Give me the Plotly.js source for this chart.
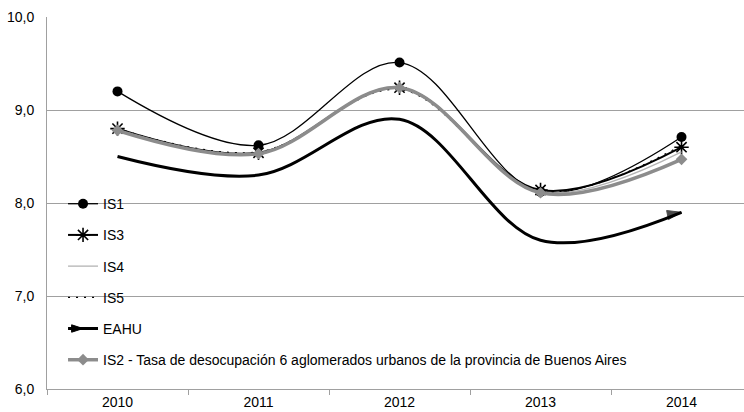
<!DOCTYPE html>
<html>
<head>
<meta charset="utf-8">
<script src="https://cdn.plot.ly/plotly-3.0.1.min.js"></script>
<style>html,body{margin:0;padding:0;background:#fff;}#chart{width:744px;height:412px;}</style>
</head>
<body>
<div id="chart"></div>
<script>
var years = ['2010', '2011', '2012', '2013', '2014'];
var is1 = [9.2, 8.62, 9.51, 8.12, 8.71];
var is3 = [8.8, 8.54, 9.24, 8.14, 8.6];
var is4 = [8.79, 8.53, 9.23, 8.12, 8.55];
var is5 = [8.8, 8.55, 9.22, 8.13, 8.62];
var eahu = [8.5, 8.3, 8.9, 7.6, 7.9];
var is2 = [8.78, 8.53, 9.24, 8.11, 8.47];
var yTicks = [6, 7, 8, 9, 10];
var labels = ['IS1', 'IS3', 'IS4', 'IS5', 'EAHU', 'IS2 - Tasa de desocupación 6 aglomerados urbanos de la provincia de Buenos Aires'];

var arrowSizes = eahu.map(function (v, i) { return i === eahu.length - 1 ? 15 : 0; });

var traces = [
  {x: years, y: is1, name: labels[0], legendgroup: 'a', mode: 'lines+markers', line: {color: '#000', width: 1.3, shape: 'spline', smoothing: 1}, marker: {symbol: 'circle', size: 10, color: '#000'}},
  {x: years, y: is3, name: labels[1], legendgroup: 'b', mode: 'lines+markers', line: {color: '#000', width: 2, shape: 'spline', smoothing: 1}, marker: {symbol: 'asterisk-open', size: 12, line: {color: '#000', width: 1.6}}},
  {x: years, y: is4, name: labels[2], legendgroup: 'c', mode: 'lines', line: {color: '#b4b4b4', width: 1.3, shape: 'spline', smoothing: 1}},
  {x: years, y: is5, name: labels[3], legendgroup: 'd', mode: 'lines', line: {color: '#000', width: 1.3, dash: '2px,6px', shape: 'spline', smoothing: 1}},
  {x: years, y: eahu, name: labels[4], legendgroup: 'e', showlegend: false, mode: 'lines+markers', line: {color: '#000', width: 3, shape: 'spline', smoothing: 1}, marker: {symbol: 'arrow', angleref: 'previous', size: arrowSizes, color: '#000', line: {color: '#000', width: 1}}},
  {x: [null], y: [null], name: labels[4], legendgroup: 'e', mode: 'lines+markers', line: {color: '#000', width: 3}, marker: {symbol: 'arrow', angle: 90, size: 12, color: '#000', line: {color: '#000', width: 1}}},
  {x: years, y: is2, name: labels[5], legendgroup: 'f', mode: 'lines+markers', line: {color: '#8c8c8c', width: 3.5, shape: 'spline', smoothing: 1}, marker: {symbol: 'diamond', size: 9, color: '#8c8c8c'}}
];

var layout = {
  width: 744, height: 412,
  margin: {l: 47, r: 0, t: 17, b: 23},
  paper_bgcolor: '#fff', plot_bgcolor: '#fff',
  font: {family: 'Liberation Sans, Arial, sans-serif', size: 14, color: '#000'},
  separators: ',.',
  showlegend: true,
  legend: {x: 0.023, xanchor: 'left', y: 0.54, yanchor: 'top', bgcolor: 'rgba(0,0,0,0)', font: {size: 14, color: '#000'}, traceorder: 'grouped', tracegroupgap: 10, itemwidth: 30},
  xaxis: {type: 'category', range: [-0.5, 4.443], showgrid: false, zeroline: false, showline: true, linecolor: '#a0a0a0', linewidth: 1, ticks: 'outside', tickson: 'boundaries', ticklen: 5, tickcolor: '#a0a0a0', tickfont: {size: 14, color: '#000'}, fixedrange: true},
  yaxis: {range: [6, 10], tickvals: yTicks, tickformat: '.1f', showgrid: true, gridcolor: '#a0a0a0', gridwidth: 1, zeroline: false, showline: true, linecolor: '#a0a0a0', linewidth: 1, ticks: '', ticklabelstandoff: 9, tickfont: {size: 14, color: '#000'}, fixedrange: true}
};

Plotly.newPlot('chart', traces, layout, {displayModeBar: false, staticPlot: true});
</script>
</body>
</html>
